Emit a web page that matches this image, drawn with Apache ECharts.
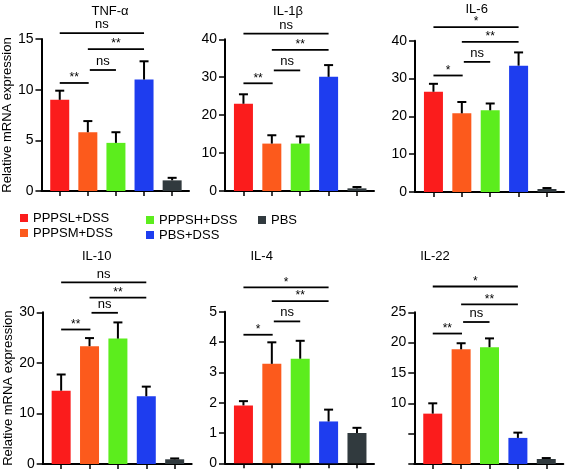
<!DOCTYPE html>
<html>
<head>
<meta charset="utf-8">
<script src="https://cdn.jsdelivr.net/npm/echarts@6/dist/echarts.min.js"></script>
<style>
html,body{margin:0;padding:0;background:#fff;}
#chart{width:569px;height:473px;}
</style>
</head>
<body>
<div id="chart"></div>
<script>
// ---- data ----
const groups = ['PPPSL+DSS', 'PPPSM+DSS', 'PPPSH+DSS', 'PBS+DSS', 'PBS'];
const panelTitles = ['TNF-α', 'IL-1β', 'IL-6', 'IL-10', 'IL-4', 'IL-22'];

const tnfMean  = [9.0, 5.8, 4.75, 11.0, 1.05];
const tnfErr   = [9.9, 6.9, 5.8, 12.8, 1.3];
const il1bMean = [23.0, 12.5, 12.5, 30.1, 0.7];
const il1bErr  = [25.5, 14.7, 14.4, 33.2, 1.05];
const il6Mean  = [26.5, 20.8, 21.6, 33.4, 0.8];
const il6Err   = [28.6, 23.8, 23.4, 36.9, 1.05];
const il10Mean = [14.5, 23.3, 24.8, 13.4, 0.93];
const il10Err  = [17.7, 24.9, 28.0, 15.3, 1.1];
const il4Mean  = [1.91, 3.28, 3.45, 1.38, 1.0];
const il4Err   = [2.05, 3.99, 4.04, 1.77, 1.17];
const il22Mean = [8.3, 18.9, 19.25, 4.3, 0.82];
const il22Err  = [10.0, 19.9, 20.7, 5.17, 0.98];

// y-axis ranges (tick labels)
const yMax      = [15, 40, 40, 30, 5, 25];
const yInterval = [5, 10, 10, 10, 1, 5];

// significance annotations: pairs of groups, levels, labels
const sigPairs = [[0, 3], [1, 3], [1.07, 2], [0, 1.03]];
const tnfSig  = ['ns', '**', 'ns', '**'];
const il1bSig = ['ns', '**', 'ns', '**'];
const il6Sig  = ['*', '**', 'ns', '*'];
const il10Sig = ['ns', '**', 'ns', '**'];
const il4Sig  = ['*', '**', 'ns', '*'];
const il22Sig = ['*', '**', 'ns', '**'];
const tnfSigLevel  = [15.57, 14.0, 11.94, 10.66];
const il1bSigLevel = [41.5, 37.2, 31.8, 28.4];
const il6SigLevel  = [43.6, 39.7, 34.4, 30.8];
const il10SigLevel = [35.9, 32.9, 29.9, 26.6];
const il4SigLevel  = [5.8, 5.35, 4.68, 4.24];
const il22SigLevel = [29.25, 26.3, 23.4, 21.5];

const means = [tnfMean, il1bMean, il6Mean, il10Mean, il4Mean, il22Mean];
const errs  = [tnfErr, il1bErr, il6Err, il10Err, il4Err, il22Err];
const sigs  = [tnfSig, il1bSig, il6Sig, il10Sig, il4Sig, il22Sig];
const sigLevels = [tnfSigLevel, il1bSigLevel, il6SigLevel, il10SigLevel, il4SigLevel, il22SigLevel];

// ---- style / layout ----
const colors = ['#fb1c1c', '#fc5a1c', '#5ced1d', '#1e3def', '#313a3e'];
const FONT = 'Liberation Sans, Arial, sans-serif';
const gridLeft = [40, 225, 415, 42.7, 225, 414.3];
const gridTop  = [39, 39.3, 40.7, 312.3, 311.7, 312.3];
const gridBottomPx = [191, 191, 192, 464, 463.3, 464];
const titlePos = [[110, 11.5], [288, 11.5], [476.7, 9], [96.7, 256], [261.7, 256], [435, 256]];

const grids = [], xAxes = [], yAxes = [], series = [], graphics = [];

for (let p = 0; p < 6; p++) {
  grids.push({left: gridLeft[p], top: gridTop[p], width: 149, height: gridBottomPx[p] - gridTop[p]});
  xAxes.push({
    type: 'value', gridIndex: p, min: -0.65, max: 4.6,
    axisLine: {show: true, onZero: false, lineStyle: {color: '#000', width: 2}},
    axisTick: {show: true, length: 5, lineStyle: {color: '#000', width: 1.5}, customValues: [0, 1, 2, 3, 4]},
    axisLabel: {show: false},
    splitLine: {show: false}
  });
  const ya = {
    type: 'value', gridIndex: p, min: 0, max: yMax[p], interval: yInterval[p],
    axisLine: {show: true, onZero: false, lineStyle: {color: '#000', width: 2}},
    axisTick: {show: true, length: 6, lineStyle: {color: '#000', width: 1.5}},
    axisLabel: {color: '#000', fontSize: 14, fontFamily: FONT, margin: 8},
    splitLine: {show: false}
  };
  if (p === 5) {
    ya.axisLabel.formatter = v => (v >= 10 ? String(v) : '');
  }
  if (p === 0 || p === 3) {
    ya.name = 'Relative mRNA expression';
    ya.nameLocation = 'middle';
    ya.nameGap = 25;
    ya.nameTextStyle = {color: '#000', fontSize: 13, fontFamily: FONT};
  }
  yAxes.push(ya);

  for (let g = 0; g < 5; g++) {
    series.push({
      type: 'bar', name: groups[g], xAxisIndex: p, yAxisIndex: p,
      barWidth: 19, barGap: '-100%',
      itemStyle: {color: colors[g]},
      data: [[g, means[p][g]]],
      z: 2
    });
  }
  // error bars
  const mp = means[p], ep = errs[p];
  series.push({
    type: 'custom', xAxisIndex: p, yAxisIndex: p, z: 3,
    data: mp.map((m, i) => [i, m, ep[i]]),
    renderItem: function (params, api) {
      const x = api.value(0);
      const a = api.coord([x, api.value(1)]);
      const b = api.coord([x, api.value(2)]);
      return {
        type: 'group',
        children: [
          {type: 'line', shape: {x1: a[0], y1: a[1], x2: b[0], y2: b[1]}, style: {stroke: '#000', lineWidth: 2}},
          {type: 'line', shape: {x1: b[0] - 4.5, y1: b[1], x2: b[0] + 4.5, y2: b[1]}, style: {stroke: '#000', lineWidth: 2}}
        ]
      };
    }
  });
  // significance bars
  const labels = sigs[p], levels = sigLevels[p];
  series.push({
    type: 'custom', xAxisIndex: p, yAxisIndex: p, z: 4, clip: false,
    data: sigPairs.map((pr, i) => [pr[0], pr[1], levels[i], i]),
    renderItem: function (params, api) {
      const a = api.coord([api.value(0), api.value(2)]);
      const b = api.coord([api.value(1), api.value(2)]);
      const lab = labels[api.value(3)];
      const isStar = lab.indexOf('*') >= 0;
      return {
        type: 'group',
        children: [
          {type: 'line', shape: {x1: a[0], y1: a[1], x2: b[0], y2: b[1]}, style: {stroke: '#000', lineWidth: 1.8}},
          {type: 'text', x: (a[0] + b[0]) / 2, y: a[1] - (isStar ? -1 : 2),
           style: {text: lab, fill: '#000', font: (isStar ? '12px ' : '13px ') + FONT, textAlign: 'center', textVerticalAlign: 'bottom'}}
        ]
      };
    }
  });

  graphics.push({
    type: 'text', x: titlePos[p][0], y: titlePos[p][1],
    style: {text: panelTitles[p], fill: '#000', font: '13px ' + FONT, textAlign: 'center', textVerticalAlign: 'middle'}
  });
}

const legendCommon = {
  orient: 'vertical', padding: 0, itemWidth: 8, itemHeight: 8, itemGap: 1,
  icon: 'rect', selectedMode: false,
  textStyle: {color: '#000', fontSize: 13, fontFamily: FONT, lineHeight: 14}
};

const option = {
  animation: false,
  backgroundColor: '#fff',
  grid: grids,
  xAxis: xAxes,
  yAxis: yAxes,
  legend: [
    Object.assign({}, legendCommon, {left: 20, top: 211, data: [groups[0], groups[1]]}),
    Object.assign({}, legendCommon, {left: 146, top: 213, data: [groups[2], groups[3]]}),
    Object.assign({}, legendCommon, {left: 258, top: 213, data: [groups[4]]})
  ],
  graphic: graphics,
  series: series
};

const chart = echarts.init(document.getElementById('chart'), null, {renderer: 'canvas'});
chart.setOption(option);
</script>
</body>
</html>
